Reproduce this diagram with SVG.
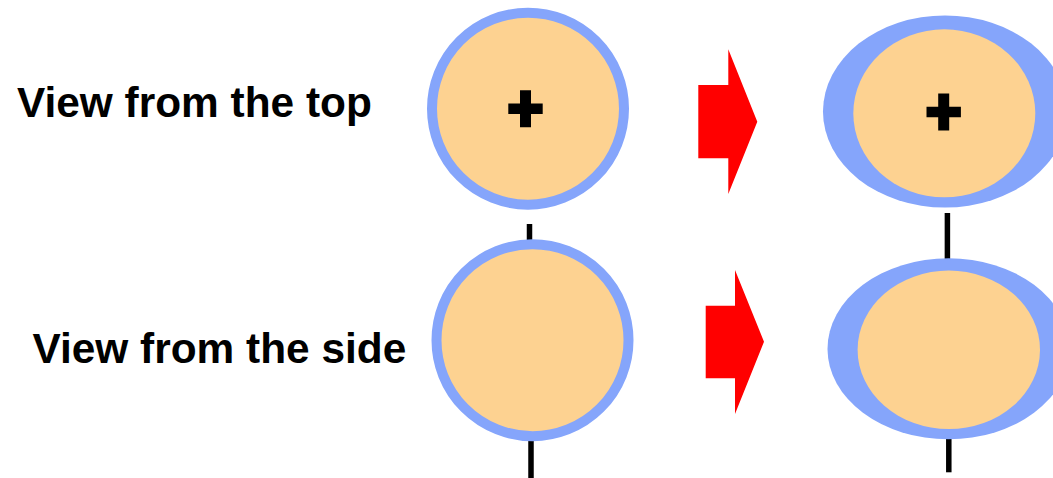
<svg xmlns="http://www.w3.org/2000/svg" width="1053" height="478" viewBox="0 0 1053 478">
  <defs>
    <style>
      .label { font-family: "Liberation Sans", Arial, sans-serif; font-weight: bold; font-size: 42.4px; fill: #000; }
      .rim { fill: #85a5fb; }
      .body { fill: #fdd291; }
      .ring { fill: #fdd291; stroke: #85a5fb; stroke-width: 10; }
      .axis { stroke: #000; stroke-width: 5.5; fill: none; }
      .arrow { fill: #ff0000; }
      .cross { fill: #000; }
    </style>
    <path id="cross" class="cross" d="M-5.5,-18.5 H5.5 V-5.3 H17.2 V5.3 H5.5 V18.5 H-5.5 V5.3 H-17.2 V-5.3 H-5.5 Z"/>
  </defs>

  <g id="label-top">
    <text class="label" x="17" y="116.7">View from the top</text>
  </g>
  <g id="label-side">
    <text class="label" x="32.5" y="362.7">View from the side</text>
  </g>

  <!-- axis segments between the bodies -->
  <g id="connectors">
    <line class="axis" x1="529.5" y1="224" x2="529.5" y2="242"/>
    <line class="axis" x1="531" y1="439" x2="531" y2="478"/>
    <line class="axis" x1="947.4" y1="213" x2="947.4" y2="260.5"/>
    <line class="axis" x1="948.8" y1="437" x2="948.8" y2="472.3"/>
  </g>

  <g id="sphere-top">
    <circle class="ring" cx="528" cy="108.7" r="96"/>
    <use href="#cross" x="525.5" y="108.7"/>
  </g>

  <g id="sphere-side">
    <circle class="ring" cx="532.5" cy="340.2" r="96"/>
  </g>

  <g id="arrow-top">
    <polygon class="arrow" points="698.3,85 728.3,85 728.3,49.3 757.3,121.7 728.3,194 728.3,158.3 698.3,158.3"/>
  </g>

  <g id="arrow-side">
    <polygon class="arrow" points="705.7,305.7 735,305.7 735,270 764,341.7 735,414 735,378.3 705.7,378.3"/>
  </g>

  <g id="deformed-top">
    <ellipse class="rim" cx="945" cy="111.5" rx="122" ry="96"/>
    <ellipse class="body" cx="944.3" cy="113.3" rx="91" ry="84"/>
    <use href="#cross" x="943.7" y="112"/>
  </g>

  <g id="deformed-side">
    <ellipse class="rim" cx="948.5" cy="348.8" rx="121" ry="90.5"/>
    <ellipse class="body" cx="948.8" cy="349.8" rx="91.2" ry="79.2"/>
  </g>
</svg>
